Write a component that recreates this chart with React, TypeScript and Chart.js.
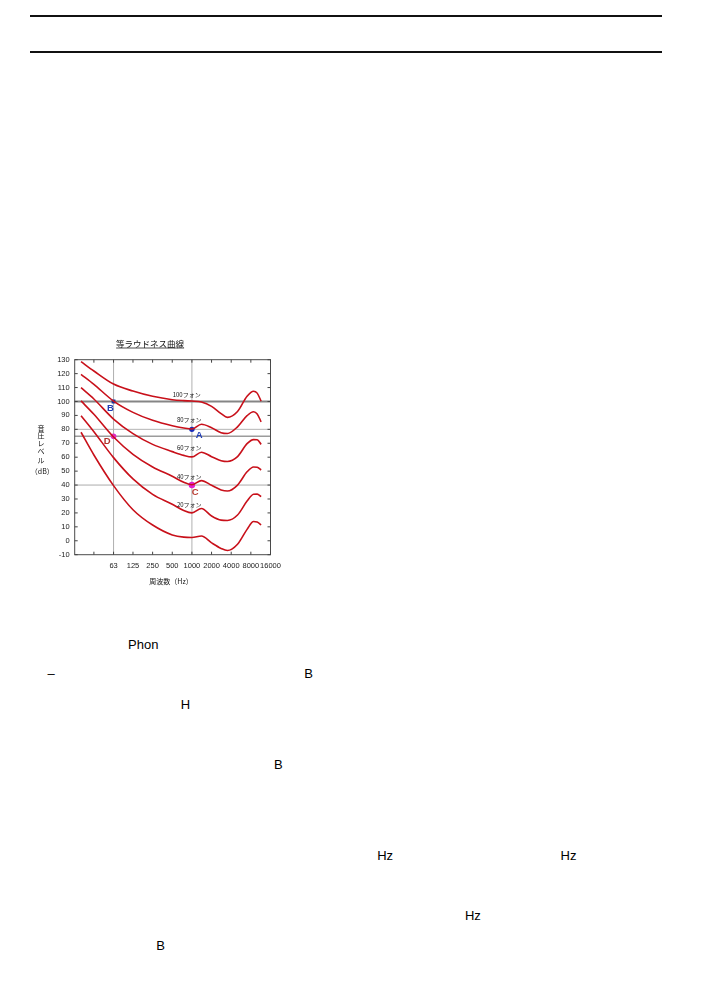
import React, { useEffect, useRef } from "react";
import { Chart, registerables } from "chart.js";

Chart.register(...registerables);

// ---- chart data ----
const FREQS = [20, 31.5, 63, 125, 250, 500, 750, 1000, 1400, 2000, 2800, 3500, 5000, 7000, 8800, 10000, 11500];
const PHON_100 = [128.6, 121.9, 112.5, 107.5, 103.7, 101.3, 100.6, 100.3, 99.6, 96.5, 91.3, 88.6, 92.8, 103.8, 107.4, 106.0, 100.2];
const PHON_80 = [119.5, 112.3, 100.3, 92.2, 86.5, 82.6, 81.0, 80.3, 83.7, 81.2, 77.6, 77.0, 81.8, 89.8, 92.6, 91.0, 85.4];
const PHON_60 = [109.9, 101.8, 87.4, 76.9, 69.2, 64.0, 61.3, 60.2, 63.6, 60.4, 57.5, 56.9, 60.4, 69.7, 72.6, 72.5, 69.2];
const PHON_40 = [100.4, 90.8, 74.5, 62.1, 53.0, 46.3, 42.0, 40.2, 43.2, 39.8, 36.5, 35.7, 40.0, 49.5, 53.0, 52.8, 50.8];
const PHON_20 = [89.8, 78.3, 59.7, 44.4, 33.3, 26.2, 21.7, 20.0, 23.2, 17.8, 14.8, 14.6, 18.5, 28.5, 33.4, 33.5, 31.7];
const THRESHOLD = [77.9, 61.6, 39.6, 22.3, 11.3, 4.2, 2.6, 2.4, 3.4, -1.5, -5.5, -7.0, -2.5, 8.2, 13.8, 13.5, 11.4];

const CURVE_LABELS = ["100フォン", "80フォン", "60フォン", "40フォン", "20フォン"];
const CURVE_LABEL_FREQ = [507, 590, 590, 590, 590];
const CURVE_LABEL_DB = [104.7, 86.7, 67.1, 46.0, 26.2];

const X_TICKS = [31.5, 63, 125, 250, 500, 1000, 2000, 4000, 8000, 16000];
const X_LABELED = [63, 125, 250, 500, 1000, 2000, 4000, 8000, 16000];
const Y_MIN = -10;
const Y_MAX = 130;
const Y_STEP = 10;

const REF_DB = [100, 80, 75, 40];
const REF_FREQ = [63, 1000];

const MARK_NAMES = ["A", "B", "C", "D"];
const MARK_FREQ = [1000, 63, 1000, 63];
const MARK_DB = [80, 100, 40, 75];
const MARK_LABEL_FREQ = [1297, 56.2, 1126, 50.5];
const MARK_LABEL_DB = [75.9, 94.8, 34.8, 71.4];

const TITLE = "等ラウドネス曲線";
const Y_TITLE = ["音", "圧", "レ", "ベ", "ル", "（dB）"];
const X_TITLE = "周波数（Hz）";

// ---- styles ----
const CURVE_COLOR = "#c8101a";
const MARK_COLORS = ["#1a2db8", "#15309e", "#e21fd0", "#e02cc4"];
const MARK_TEXT_COLORS = ["#1f3bb5", "#1f3bb5", "#b83a30", "#b0302a"];
const MARK_SIZES = [2.7, 2.7, 3.2, 2.8];
const MARK_STYLES = ["circle", "rect", "circle", "circle"];
const REF_DB_STYLE = [
  { c: "#858585", w: 2 },
  { c: "#b4b4b4", w: 1 },
  { c: "#9c9c9c", w: 1.5 },
  { c: "#ababab", w: 1 },
];
const CJK = '"Noto Sans CJK JP", "Noto Sans CJK SC", sans-serif';
const LAT = '"Liberation Sans", Arial, sans-serif';

const PAGE_TEXT = [
  { t: "Phon", x: 128, y: 637.5 },
  { t: "–", x: 47.5, y: 667.3 },
  { t: "B", x: 304.3, y: 667.3 },
  { t: "H", x: 180.8, y: 697.6 },
  { t: "B", x: 274, y: 758.3 },
  { t: "Hz", x: 377.2, y: 849 },
  { t: "Hz", x: 560.6, y: 849 },
  { t: "Hz", x: 464.9, y: 909.3 },
  { t: "B", x: 156.2, y: 939 },
];

const decorPlugin = {
  id: "decor",
  beforeDatasetsDraw(chart: any) {
    const { ctx, chartArea: a, scales } = chart;
    const xs = scales.x;
    const ys = scales.y;
    ctx.save();
    REF_FREQ.forEach((f) => {
      const px = xs.getPixelForValue(f);
      ctx.strokeStyle = "#b0b0b0";
      ctx.lineWidth = 1;
      ctx.beginPath();
      ctx.moveTo(px, a.top);
      ctx.lineTo(px, a.bottom);
      ctx.stroke();
    });
    REF_DB.forEach((d, i) => {
      const py = ys.getPixelForValue(d);
      ctx.strokeStyle = REF_DB_STYLE[i].c;
      ctx.lineWidth = REF_DB_STYLE[i].w;
      ctx.beginPath();
      ctx.moveTo(a.left, py);
      ctx.lineTo(a.right, py);
      ctx.stroke();
    });
    ctx.strokeStyle = "#4a4a4a";
    ctx.lineWidth = 1;
    ctx.strokeRect(a.left, a.top, a.right - a.left, a.bottom - a.top);
    ctx.strokeStyle = "#444";
    ctx.beginPath();
    for (let v = Y_MIN; v <= Y_MAX; v += Y_STEP) {
      const py = ys.getPixelForValue(v);
      ctx.moveTo(a.left, py);
      ctx.lineTo(a.left + 3, py);
      ctx.moveTo(a.right, py);
      ctx.lineTo(a.right - 3, py);
    }
    X_TICKS.forEach((f) => {
      const px = xs.getPixelForValue(f);
      ctx.moveTo(px, a.top);
      ctx.lineTo(px, a.top + 3);
      ctx.moveTo(px, a.bottom);
      ctx.lineTo(px, a.bottom - 3);
    });
    ctx.stroke();
    ctx.restore();
  },
  afterDatasetsDraw(chart: any) {
    const { ctx, scales, chartArea: a } = chart;
    const xs = scales.x;
    const ys = scales.y;
    ctx.save();
    ctx.fillStyle = "#111";
    ctx.font = `6px ${CJK}`;
    ctx.textAlign = "left";
    ctx.textBaseline = "middle";
    CURVE_LABELS.forEach((t, i) => {
      ctx.fillText(t, xs.getPixelForValue(CURVE_LABEL_FREQ[i]), ys.getPixelForValue(CURVE_LABEL_DB[i]));
    });
    ctx.font = `bold 9.5px ${LAT}`;
    ctx.textAlign = "center";
    MARK_NAMES.forEach((t, i) => {
      ctx.fillStyle = MARK_TEXT_COLORS[i];
      ctx.fillText(t, xs.getPixelForValue(MARK_LABEL_FREQ[i]), ys.getPixelForValue(MARK_LABEL_DB[i]));
    });
    ctx.fillStyle = "#111";
    ctx.font = `8.5px ${CJK}`;
    ctx.textAlign = "center";
    const cx = (a.left + a.right) / 2;
    ctx.fillText(TITLE, cx - 22.5, 13.5);
    const tw = ctx.measureText(TITLE).width;
    ctx.strokeStyle = "#222";
    ctx.lineWidth = 0.8;
    ctx.beginPath();
    ctx.moveTo(cx - 22.5 - tw / 2, 18);
    ctx.lineTo(cx - 22.5 + tw / 2, 18);
    ctx.stroke();
    ctx.font = `7px ${CJK}`;
    const yPos = [98, 105.5, 113, 121, 130, 141.7];
    Y_TITLE.forEach((t, i) => {
      ctx.fillText(t, i === Y_TITLE.length - 1 ? 17.3 : 16, yPos[i]);
    });
    ctx.font = `7px ${CJK}`;
    ctx.fillText(X_TITLE, 146, 251.5);
    ctx.restore();
  },
};

export default function App() {
  const ref = useRef<HTMLCanvasElement>(null);
  useEffect(() => {
    const curves = [PHON_100, PHON_80, PHON_60, PHON_40, PHON_20, THRESHOLD];
    const datasets: any[] = curves.map((vals) => ({
      data: FREQS.map((f, j) => ({ x: f, y: vals[j] })),
      borderColor: CURVE_COLOR,
      borderWidth: 1.6,
      pointRadius: 0,
      cubicInterpolationMode: "monotone",
      fill: false,
    }));
    MARK_NAMES.forEach((_, i) => {
      datasets.push({
        data: [{ x: MARK_FREQ[i], y: MARK_DB[i] }],
        showLine: false,
        pointStyle: MARK_STYLES[i],
        pointRadius: MARK_SIZES[i],
        backgroundColor: MARK_COLORS[i],
        borderColor: MARK_COLORS[i],
        borderWidth: 0,
      });
    });
    const chart = new Chart(ref.current as HTMLCanvasElement, {
      type: "line",
      data: { datasets },
      options: {
        animation: false,
        responsive: false,
        layout: { padding: { top: 29.7, right: 19.5, bottom: 0, left: 0 } },
        plugins: { legend: { display: false }, tooltip: { enabled: false }, title: { display: false } },
        scales: {
          x: {
            type: "logarithmic",
            min: 16,
            max: 16000,
            grid: { display: false, drawTicks: false },
            border: { display: false },
            afterBuildTicks: (axis: any) => {
              axis.ticks = X_TICKS.map((v) => ({ value: v }));
            },
            afterFit: (axis: any) => {
              axis.height = 40.3;
            },
            ticks: {
              autoSkip: false,
              maxRotation: 0,
              minRotation: 0,
              padding: 6.5,
              color: "#222",
              font: { family: LAT, size: 7.5 },
              callback: (v: any) => (X_LABELED.includes(Number(v)) ? String(v) : ""),
            },
          },
          y: {
            type: "linear",
            min: Y_MIN,
            max: Y_MAX,
            grid: { display: false, drawTicks: false },
            border: { display: false },
            afterFit: (axis: any) => {
              axis.width = 49.7;
            },
            ticks: {
              stepSize: Y_STEP,
              padding: 5,
              color: "#222",
              font: { family: LAT, size: 7.5 },
            },
          },
        },
      } as any,
      plugins: [decorPlugin],
    });
    return () => chart.destroy();
  }, []);

  return (
    <div
      style={{
        position: "absolute",
        left: 0,
        top: 0,
        width: 708,
        height: 1000,
        background: "#fff",
        overflow: "hidden",
        fontFamily: LAT,
      }}
    >
      <div style={{ position: "absolute", left: 30, top: 15, width: 632, height: 2, background: "#111" }} />
      <div style={{ position: "absolute", left: 30, top: 51, width: 632, height: 2, background: "#111" }} />
      <canvas
        ref={ref}
        width={265}
        height={265}
        style={{ position: "absolute", left: 25, top: 330, width: 265, height: 265 }}
      />
      {PAGE_TEXT.map((p, i) => (
        <div
          key={i}
          style={{
            position: "absolute",
            left: p.x,
            top: p.y,
            fontSize: 13,
            lineHeight: "13px",
            color: "#000",
            whiteSpace: "nowrap",
          }}
        >
          {p.t}
        </div>
      ))}
    </div>
  );
}
